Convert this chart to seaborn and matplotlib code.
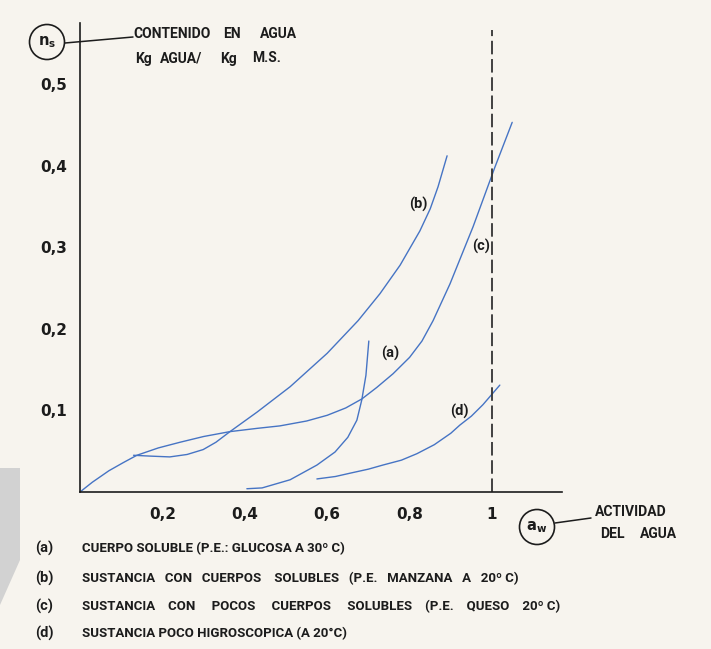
import numpy as np
import pandas as pd
import matplotlib
matplotlib.use("Agg")
import matplotlib.pyplot as plt
import seaborn as sns
from matplotlib.patches import Ellipse, Polygon
from matplotlib.lines import Line2D

# ---------------- data ----------------
a_aw = [0.405, 0.442, 0.510, 0.575, 0.619, 0.650, 0.672, 0.684, 0.694, 0.701]
a_ns = [0.004, 0.005, 0.015, 0.033, 0.049, 0.067, 0.088, 0.113, 0.143, 0.185]

b_aw = [0.130, 0.170, 0.218, 0.260, 0.299, 0.330, 0.364, 0.430, 0.510, 0.600, 0.675,
        0.728, 0.777, 0.825, 0.850, 0.869, 0.891]
b_ns = [0.045, 0.044, 0.043, 0.046, 0.052, 0.061, 0.074, 0.098, 0.129, 0.170, 0.210,
        0.243, 0.278, 0.320, 0.347, 0.374, 0.412]

c_aw = [0.000, 0.030, 0.070, 0.105, 0.138, 0.190, 0.243, 0.300, 0.364, 0.430, 0.485,
        0.550, 0.600, 0.645, 0.684, 0.720, 0.760, 0.800, 0.830, 0.857, 0.898, 0.954,
        1.007, 1.049]
c_ns = [0.000, 0.012, 0.026, 0.036, 0.045, 0.054, 0.061, 0.068, 0.074, 0.078, 0.081,
        0.087, 0.094, 0.103, 0.114, 0.128, 0.145, 0.165, 0.185, 0.210, 0.255, 0.325,
        0.398, 0.453]

d_aw = [0.575, 0.620, 0.655, 0.700, 0.735, 0.780, 0.818, 0.860, 0.900, 0.922, 0.950, 0.978, 1.019]
d_ns = [0.016, 0.019, 0.023, 0.028, 0.033, 0.039, 0.047, 0.058, 0.072, 0.082, 0.093, 0.107, 0.131]

curve_ids = ["(a)", "(b)", "(c)", "(d)"]
x_ticks = [0.2, 0.4, 0.6, 0.8, 1.0]
x_tick_labels = ["0,2", "0,4", "0,6", "0,8", "1"]
y_ticks = [0.1, 0.2, 0.3, 0.4, 0.5]
y_tick_labels = ["0,1", "0,2", "0,3", "0,4", "0,5"]
aw_limit = 1.0

legend_lines = [
    "CUERPO SOLUBLE (P.E.: GLUCOSA A 30º C)",
    "SUSTANCIA   CON   CUERPOS    SOLUBLES   (P.E.   MANZANA   A   20º C)",
    "SUSTANCIA    CON     POCOS     CUERPOS     SOLUBLES    (P.E.    QUESO    20º C)",
    "SUSTANCIA POCO HIGROSCOPICA (A 20°C)",
]
y_title_words = [("CONTENIDO", 133, 33), ("EN", 223, 33), ("AGUA", 260, 33),
                 ("Kg", 135, 57), ("AGUA/", 160, 57), ("Kg", 220, 57), ("M.S.", 252, 57)]
x_title_words = [("ACTIVIDAD", 595, 511), ("DEL", 600, 532), ("AGUA", 640, 532)]

# ---------------- build table ----------------
frames = []
for cid, xs, ys in zip(curve_ids, [a_aw, b_aw, c_aw, d_aw], [a_ns, b_ns, c_ns, d_ns]):
    frames.append(pd.DataFrame({"aw": xs, "ns": ys, "curve": cid}))
df = pd.concat(frames, ignore_index=True)

# ---------------- style ----------------
BG = "#f7f4ee"
BLUE = "#4674c4"
INK = "#1c1c1c"
W, H = 711, 649

sns.set_style("white")
plt.rcParams["font.family"] = ["DejaVu Sans"]
plt.rcParams["figure.facecolor"] = BG
plt.rcParams["axes.facecolor"] = BG
CAPS = ["Roboto", "DejaVu Sans"]

fig = plt.figure(figsize=(W / 100, H / 100), dpi=100, facecolor=BG)

X0, Y0, SX, SY = 80, 492, 412, 816
XMAX, YMAX = 1.17, 0.575
ax = fig.add_axes([X0 / W, (H - Y0) / H, XMAX * SX / W, YMAX * SY / H])
ax.patch.set_alpha(0)

sns.lineplot(data=df, x="aw", y="ns", hue="curve", units="curve", estimator=None,
             sort=False, palette={c: BLUE for c in curve_ids}, legend=False,
             linewidth=1.0, ax=ax)

ax.set_xlim(0, XMAX)
ax.set_ylim(0, YMAX)
for s in ["top", "right"]:
    ax.spines[s].set_visible(False)
for s in ["left", "bottom"]:
    ax.spines[s].set_color(INK)
    ax.spines[s].set_linewidth(1.2)

ax.set_xticks(x_ticks)
ax.set_xticklabels(x_tick_labels)
ax.set_yticks(y_ticks)
ax.set_yticklabels(y_tick_labels)
ax.tick_params(axis="x", direction="in", length=4, width=1.1, color=INK, pad=10.5,
               labelsize=11, labelcolor=INK)
ax.tick_params(axis="y", direction="in", length=4, width=1.1, color=INK, pad=9.5,
               labelsize=11, labelcolor=INK)
for lab in ax.get_xticklabels() + ax.get_yticklabels():
    lab.set_fontweight("bold")
ax.set_xlabel("")
ax.set_ylabel("")

# dashed limit line at aw = 1
ax.axvline(aw_limit, ymin=0, ymax=(Y0 - 30) / (YMAX * SY), color="#333333",
           linewidth=1.3, dashes=(7.5, 2.6))

# curve labels
for cid, (px, py) in zip(curve_ids, [(390, 353), (418, 204), (481, 246), (459, 411)]):
    ax.text((px - X0) / SX, (Y0 - py) / SY, cid, ha="center", va="center",
            fontsize=10.5, fontweight="bold", family=CAPS, color=INK)


def fx(x):
    return x / W


def fy(y):
    return 1 - y / H


# scan shading on left edge
fig.add_artist(Polygon([(fx(0), fy(468)), (fx(20), fy(468)), (fx(20), fy(560)), (fx(0), fy(605))],
                       closed=True, transform=fig.transFigure, facecolor="#d2d2d2",
                       edgecolor="none", zorder=0))

# y-axis title with circle
fig.add_artist(Ellipse((fx(47), fy(42)), 35 / W, 35 / H, transform=fig.transFigure,
                       facecolor="none", edgecolor=INK, linewidth=1.2))
fig.text(fx(47), fy(42), r"$\mathbf{n_s}$", ha="center", va="center", fontsize=10.5, color=INK)
fig.add_artist(Line2D([fx(65), fx(133)], [fy(43), fy(37)], transform=fig.transFigure,
                      color=INK, linewidth=1.1))
for word, px, py in y_title_words:
    fig.text(fx(px), fy(py), word, ha="left", va="center_baseline", fontsize=10,
             fontweight="bold", family=CAPS, color=INK)

# x-axis title with circle
fig.add_artist(Ellipse((fx(537), fy(527)), 35 / W, 35 / H, transform=fig.transFigure,
                       facecolor="none", edgecolor=INK, linewidth=1.2))
fig.text(fx(537), fy(527), r"$\mathbf{a_w}$", ha="center", va="center", fontsize=10.5, color=INK)
fig.add_artist(Line2D([fx(555), fx(591)], [fy(523), fy(518)], transform=fig.transFigure,
                      color=INK, linewidth=1.1))
for word, px, py in x_title_words:
    fig.text(fx(px), fy(py), word, ha="left", va="center_baseline", fontsize=10,
             fontweight="bold", family=CAPS, color=INK)

# legend text
for cid, txt, yy in zip(curve_ids, legend_lines, [547, 577, 605, 632]):
    fig.text(fx(35), fy(yy), cid, ha="left", va="center_baseline", fontsize=10.5, fontweight="bold",
             family=CAPS, color=INK)
    fig.text(fx(82), fy(yy), txt, ha="left", va="center_baseline", fontsize=9.5, fontweight="bold",
             family=CAPS, color=INK)

fig.savefig("out.png", dpi=100, facecolor=BG)
